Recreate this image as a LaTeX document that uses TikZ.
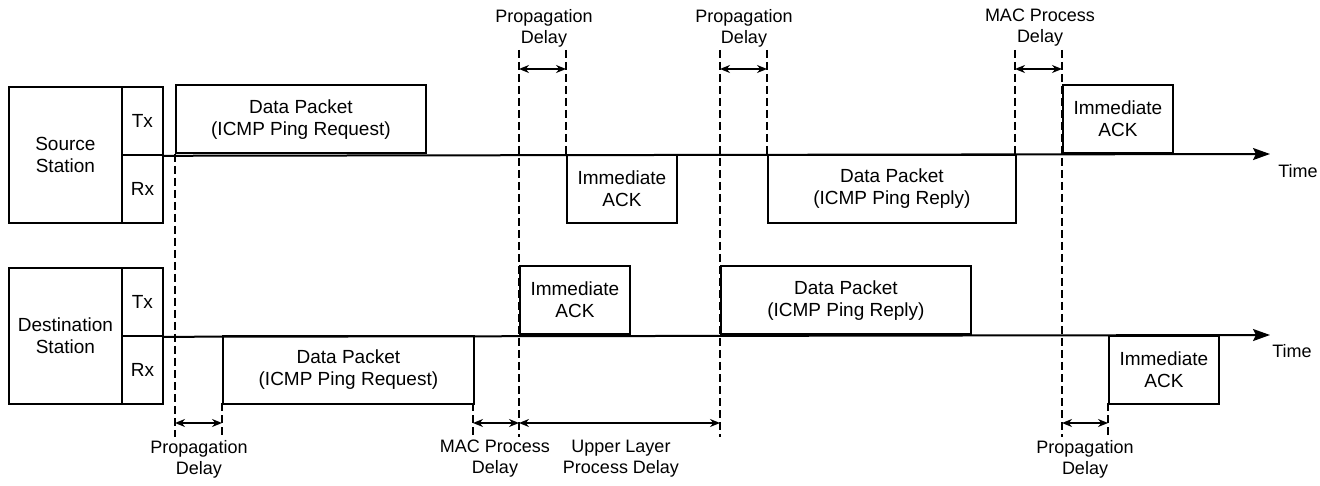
\documentclass[tikz,border=0pt]{standalone}
\usepackage{fontspec}
\setmainfont{Liberation Sans}
\usetikzlibrary{arrows.meta}
\begin{document}
\begin{tikzpicture}[x=1pt,y=-1pt,
  every node/.style={font=\fontsize{19}{22}\selectfont, inner sep=0pt, align=center},
  box/.style={draw, line width=1.8pt},
  station/.style={box, minimum width=113, minimum height=136, anchor=north west},
  cell/.style={box, minimum width=41, minimum height=68, anchor=north west},
  pkt/.style={box, minimum width=#1, minimum height=68},
  timeline/.style={line width=2pt, -{Stealth[length=17pt,width=12pt,inset=3pt]}},
  guide/.style={line width=1.6pt, dash pattern=on 8pt off 4pt},
  dim/.style={line width=1.6pt, {Stealth[length=10pt,width=8pt]}-{Stealth[length=10pt,width=8pt]}},
  lbl/.style={font=\fontsize{18}{21}\selectfont}
]
\useasboundingbox (0,0) rectangle (1320,486);

% ---- vertical time markers (dashed) ----
\foreach \n/\x/\ya/\yb in {a/175/154/437, b/222/403/437, c/473/403/437,
    d/519/50/437, e/566/50/154, f/720/50/437, g/767/50/154,
    h/1015/50/154, i/1062/50/437, j/1108/403/437} {
  \coordinate (m\n top) at (\x,\ya);
  \coordinate (m\n bot) at (\x,\yb);
  \draw[guide] (m\n top) -- (m\n bot);
}

% ---- stations ----
\node[station] (src) at (8,86) {Source\\Station};
\node[cell] (stx) at (121,86) {Tx};
\node[cell] (srx) at (121,154) {Rx};
\node[station] (dst) at (8,267) {Destination\\Station};
\node[cell] (dtx) at (121,267) {Tx};
\node[cell] (drx) at (121,335) {Rx};

% ---- time axes ----
\coordinate (send) at (1270,154);
\coordinate (dend) at (1270,335);
\draw[timeline] (stx.south east) -- (send);
\draw[timeline] (dtx.south east) -- (dend);
\node[lbl] (stime) at (1298,171) {Time};
\node[lbl] (dtime) at (1292,351) {Time};

% ---- source station frames ----
\node[pkt=250, anchor=south west] (sreq) at (175,154) {Data Packet\\(ICMP Ping Request)};
\node[pkt=110, anchor=north west] (sack) at (566,154) {Immediate\\ACK};
\node[pkt=248, anchor=north west] (srep) at (767,154) {Data Packet\\(ICMP Ping Reply)};
\node[pkt=110, anchor=south west] (sack2) at (1062,154) {Immediate\\ACK};

% ---- destination station frames ----
\node[pkt=251, anchor=north west] (dreq) at (222,335) {Data Packet\\(ICMP Ping Request)};
\node[pkt=110, anchor=south west] (dack) at (519,335) {Immediate\\ACK};
\node[pkt=250, anchor=south west] (drep) at (720,335) {Data Packet\\(ICMP Ping Reply)};
\node[pkt=110, anchor=north west] (dack2) at (1108,335) {Immediate\\ACK};

% ---- delay dimensions ----
\draw[dim] (519,69) coordinate (p1a) -- (566,69) coordinate (p1b);
\draw[dim] (720,69) coordinate (p2a) -- (767,69) coordinate (p2b);
\draw[dim] (1015,69) coordinate (p3a) -- (1062,69) coordinate (p3b);
\draw[dim] (175,423) coordinate (q1a) -- (222,423) coordinate (q1b);
\draw[dim] (473,423) coordinate (q2a) -- (519,423) coordinate (q2b);
\draw[dim] (519,423) coordinate (q3a) -- (720,423) coordinate (q3b);
\draw[dim] (1062,423) coordinate (q4a) -- (1108,423) coordinate (q4b);

% ---- delay labels ----
\node[lbl] (l1) at (544,28) {Propagation\\Delay};
\node[lbl] (l2) at (744,28) {Propagation\\Delay};
\node[lbl] (l3) at (1040,28) {MAC Process\\Delay};
\node[lbl] (l4) at (199,459) {Propagation\\Delay};
\node[lbl] (l5) at (495,459) {MAC Process\\Delay};
\node[lbl] (l6) at (621,459) {Upper Layer\\Process Delay};
\node[lbl] (l7) at (1085,459) {Propagation\\Delay};
\end{tikzpicture}
\end{document}
